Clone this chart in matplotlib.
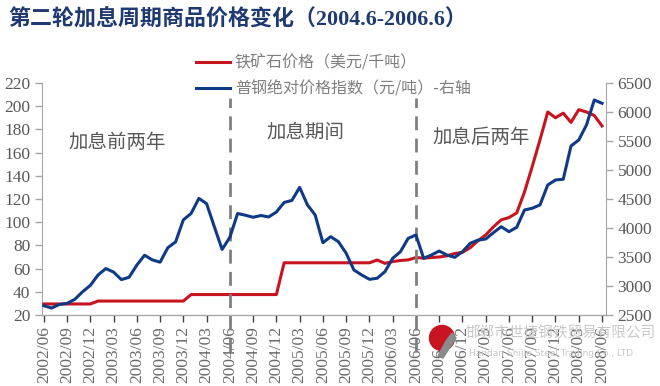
import matplotlib.pyplot as plt
from matplotlib.patches import Ellipse, Polygon

plt.rcParams['font.family'] = ['Liberation Serif', 'Noto Sans CJK SC']

# monthly data, 2002/06 .. 2008/06
iron_ore = [29.5] * 7 + [32] * 12 + [37.6] * 12 + [65] * 12 + [
    67.4, 64.5, 66, 67, 67.5, 69.5, 69, 69.5, 70, 71,
    73, 74, 78, 84, 89, 96, 102, 104, 108, 126,
    148, 171, 195, 190, 194, 186, 197, 195, 192, 183]

steel_index = [
    2660, 2620, 2680, 2700, 2770, 2900, 3010, 3190, 3300, 3240,
    3110, 3150, 3360, 3530, 3450, 3410, 3660, 3760, 4140, 4250,
    4510, 4420, 4020, 3630, 3840, 4250, 4220, 4185, 4215, 4190,
    4275, 4440, 4475, 4700, 4400, 4224, 3746, 3850, 3764, 3564,
    3276, 3190, 3115, 3133, 3247, 3477, 3591, 3822, 3879, 3477,
    3534, 3603, 3534, 3494, 3591, 3736, 3790, 3810, 3920, 4022,
    3936, 4012, 4310, 4340, 4397, 4741, 4828, 4840, 5414, 5517,
    5776, 6207, 6150]

tick_labels = ['2002/06', '2002/09', '2002/12', '2003/03', '2003/06', '2003/09',
               '2003/12', '2004/03', '2004/06', '2004/09', '2004/12', '2005/03',
               '2005/06', '2005/09', '2005/12', '2006/03', '2006/06', '2006/09',
               '2006/12', '2007/03', '2007/06', '2007/09', '2007/12', '2008/03',
               '2008/06']

periods = ['加息前两年', '加息期间', '加息后两年']
period_pos = [(9.5, 169), (33.7, 177), (56.4, 173)]
hike_start, hike_end = 24, 48

red = '#C8141E'
blue = '#0F3A85'
gray = '#595959'

x = list(range(len(iron_ore)))

fig = plt.figure(figsize=(6.6, 3.86), dpi=100)
ax = fig.add_axes([0.064, 0.184, 0.854, 0.601])
ax2 = ax.twinx()

l1, = ax.plot(x, iron_ore, color=red, lw=2.2, zorder=3)
l2, = ax2.plot(x, steel_index, color=blue, lw=2.2, zorder=3)

ax.set_xlim(-0.2, 72.5)
ax.set_ylim(20, 220)
ax.set_yticks(range(20, 221, 20))
ax2.set_ylim(2500, 6500)
ax2.set_yticks(range(2500, 6501, 500))
ax.set_xticks(range(0, 73, 3))
ax.set_xticklabels(tick_labels, rotation=90)

for a in (ax, ax2):
    for s in a.spines.values():
        s.set_color('#a6a6a6')
    a.spines['top'].set_visible(False)
    a.tick_params(colors='#a6a6a6', labelcolor=gray, labelsize=12.5, length=5, width=1)
ax.spines['right'].set_visible(False)
ax2.spines['left'].set_visible(False)
ax.spines['bottom'].set_color('#404040')
ax.tick_params(axis='x', colors='#404040', labelcolor='#6a6a6a', pad=3)

# dashed lines marking the rate-hike period
for xv in (hike_start, hike_end):
    ax.plot([xv, xv], [-12, 207], color='#808080', lw=2, ls=(0, (5, 3)),
            clip_on=False, zorder=4)

for txt, (px, py) in zip(periods, period_pos):
    ax.text(px, py, txt, ha='center', va='center', fontsize=14, color=gray,
            family=['Noto Sans CJK SC'])

fig.legend([l1, l2], ['铁矿石价格（美元/千吨）', '普钢绝对价格指数（元/吨）-右轴'],
           loc='upper left', bbox_to_anchor=(0.288, 0.875), frameon=False,
           prop={'family': ['Noto Sans CJK SC'], 'size': 11.5},
           labelcolor='#7f7f7f', handlelength=2.1, handletextpad=0.3,
           labelspacing=0.55, borderaxespad=0)

fig.text(0.012, 0.951, '第二轮加息周期商品价格变化（2004.6-2006.6）', fontsize=15.8,
         fontweight='bold', color='#1F3A70', va='center', ha='left')

# watermark logo and company name
fig.patches.append(Ellipse((442 / 660, 1 - 338 / 386), 25 / 660, 25 / 386,
                           transform=fig.transFigure, color=red, zorder=0))
fig.patches.append(Polygon([(438 / 660, 1 - 356 / 386), (446 / 660, 1 - 341 / 386),
                            (452 / 660, 1 - 333 / 386), (456 / 660, 1 - 338 / 386),
                            (443 / 660, 1 - 358 / 386)],
                           closed=True, transform=fig.transFigure, color='#8a8a8a', zorder=0))
fig.text(0.705, 1 - 334 / 386, '邯郸市世捷钢铁贸易有限公司', fontsize=10.5, color='#c8c8c8',
         va='center', family=['Noto Sans CJK SC'], zorder=0)
fig.text(0.71, 1 - 353 / 386, 'Handan Shijie Steel Trading Co., LTD', fontsize=6.5,
         color='#c8c8c8', va='center', family=['DejaVu Sans'], zorder=0)

fig.savefig('out.png', dpi=100)
